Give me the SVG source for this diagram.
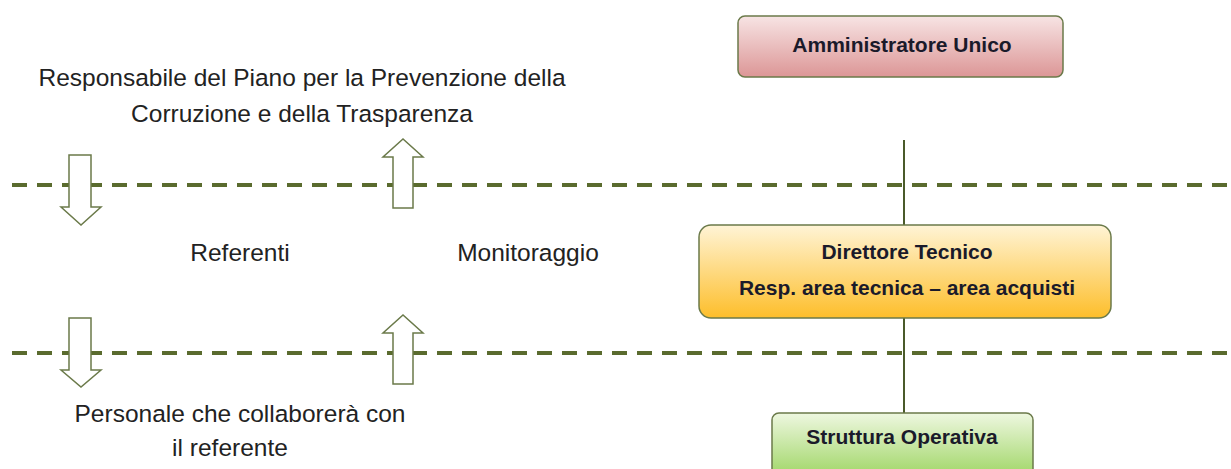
<svg xmlns="http://www.w3.org/2000/svg" width="1231" height="469" viewBox="0 0 1231 469">
<style>
.dash{stroke:#5a6b2e;stroke-width:4;stroke-dasharray:15 10;fill:none}
.arr{fill:#fff;stroke:#6b7a4a;stroke-width:1.5}
.lbl{font-family:"Liberation Sans",Arial,sans-serif;font-size:24.5px;fill:#222;text-anchor:middle}
.bt{font-family:"Liberation Sans",Arial,sans-serif;font-size:21px;font-weight:bold;fill:#1a1a2a;text-anchor:middle}
.box{stroke:#6b7a4a;stroke-width:1.5}
.conn{stroke:#4a5a2a;stroke-width:2;fill:none}
</style>
<defs>
<linearGradient id="gRed" x1="0" y1="0" x2="0" y2="1"><stop offset="0" stop-color="#f7e4e4"/><stop offset="1" stop-color="#dc9696"/></linearGradient>
<linearGradient id="gYel" x1="0" y1="0" x2="0" y2="1"><stop offset="0" stop-color="#fff4d6"/><stop offset="1" stop-color="#fdbe2a"/></linearGradient>
<linearGradient id="gGrn" x1="0" y1="0" x2="0" y2="1"><stop offset="0" stop-color="#eef7e0"/><stop offset="1" stop-color="#98d35a"/></linearGradient>
</defs>
<rect width="1231" height="469" fill="#fff"/>
<g id="dashes">
<line class="dash" x1="12" y1="185" x2="1231" y2="185"/>
<line class="dash" x1="12" y1="353" x2="1231" y2="353"/>
</g>
<g id="arrows">
<polygon class="arr" points="69,155 91,155 91,207 101,207 81,225 61,207 69,207"/>
<polygon class="arr" points="393,208 413,208 413,157 423,157 403,139 383,157 393,157"/>
<polygon class="arr" points="69,318 91,318 91,370 101,370 81,387 61,370 69,370"/>
<polygon class="arr" points="393,384 413,384 413,333 423,333 403,315 383,333 393,333"/>
</g>
<g id="connectors">
<line class="conn" x1="904" y1="140" x2="904" y2="225"/>
<line class="conn" x1="904" y1="318" x2="904" y2="413"/>
</g>
<g id="labels">
<text class="lbl" x="302" y="86">Responsabile del Piano per la Prevenzione della</text>
<text class="lbl" x="302" y="122">Corruzione e della Trasparenza</text>
<text class="lbl" x="240" y="261">Referenti</text>
<text class="lbl" x="528" y="261">Monitoraggio</text>
<text class="lbl" x="240" y="422">Personale che collaborerà con</text>
<text class="lbl" x="230" y="456">il referente</text>
</g>
<g id="node-amministratore">
<rect class="box" x="738" y="16" width="325" height="61" rx="7" fill="url(#gRed)"/>
<text class="bt" x="902" y="52">Amministratore Unico</text>
</g>
<g id="node-direttore">
<rect class="box" x="699" y="225" width="412" height="93" rx="12" fill="url(#gYel)"/>
<text class="bt" x="907" y="259">Direttore Tecnico</text>
<text class="bt" x="907" y="295">Resp. area tecnica – area acquisti</text>
</g>
<g id="node-struttura">
<rect class="box" x="772" y="413" width="261" height="70" rx="7" fill="url(#gGrn)"/>
<text class="bt" x="902" y="444">Struttura Operativa</text>
</g>
</svg>
